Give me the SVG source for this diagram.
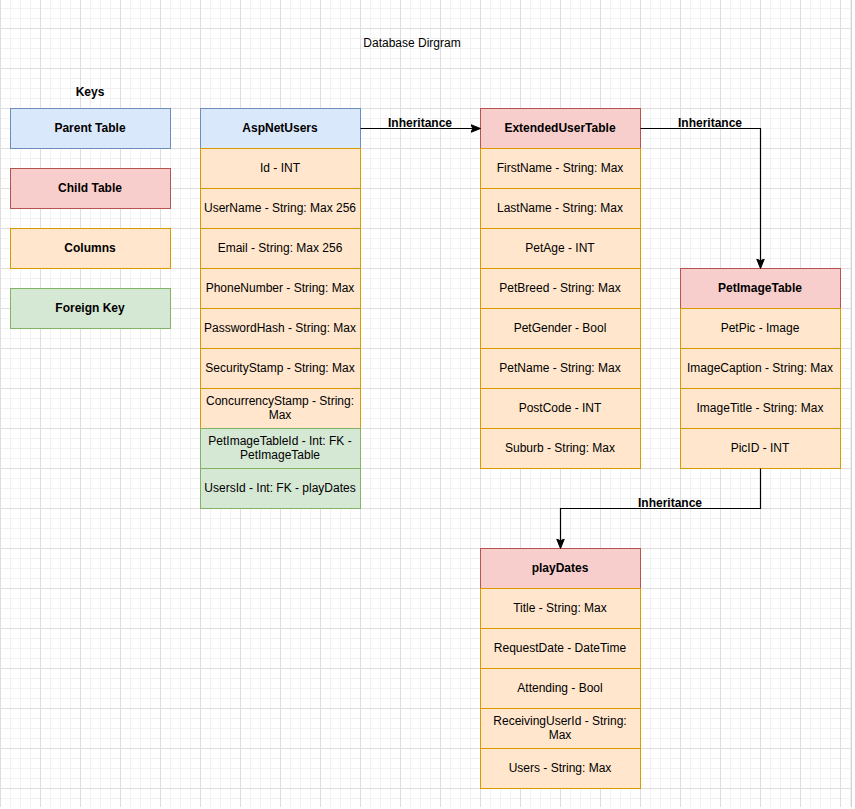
<svg xmlns="http://www.w3.org/2000/svg" width="855" height="809" viewBox="0 0 855 809">
<defs>
<pattern id="minor" width="10" height="10" patternUnits="userSpaceOnUse" x="0" y="8">
<path d="M0 0.5H10M0.5 0V10" fill="none" stroke="#f1f1f1" stroke-width="1"/>
</pattern>
<pattern id="major" width="40" height="40" patternUnits="userSpaceOnUse" x="0" y="28">
<path d="M0 0.5H40M0.5 0V40" fill="none" stroke="#dedede" stroke-width="1"/>
</pattern>
<marker id="arr" viewBox="0 0 10 10" refX="9" refY="5" markerWidth="10" markerHeight="10" markerUnits="userSpaceOnUse" orient="auto">
<path d="M0 1L10 5L0 9L2.5 5Z" fill="#000" stroke="#000" stroke-width="1"/>
</marker>
<style>
text{font-family:"Liberation Sans",Arial,sans-serif;font-size:12px;fill:#000;text-anchor:middle;dominant-baseline:central}
.b{font-weight:bold}
.p{fill:#dae8fc;stroke:#6c8ebf}
.c{fill:#f8cecc;stroke:#b85450}
.col{fill:#ffe6cc;stroke:#d79b00}
.fk{fill:#d5e8d4;stroke:#82b366}
.line{fill:none;stroke:#000;stroke-width:1.2}
</style>
</defs>
<rect x="0" y="0" width="851" height="807" fill="#fff"/>
<rect x="0" y="0" width="851" height="807" fill="url(#minor)"/>
<rect x="0" y="0" width="851" height="807" fill="url(#major)"/>
<line x1="851.5" y1="0" x2="851.5" y2="807" stroke="#d0d0d0"/>

<g id="title"><text x="412" y="43">Database Dirgram</text></g>

<g id="keys">
<text class="b" x="90" y="92">Keys</text>
<rect class="p" x="10.5" y="108.5" width="160" height="40"/><text class="b" x="90" y="128">Parent Table</text>
<rect class="c" x="10.5" y="168.5" width="160" height="40"/><text class="b" x="90" y="188">Child Table</text>
<rect class="col" x="10.5" y="228.5" width="160" height="40"/><text class="b" x="90" y="248">Columns</text>
<rect class="fk" x="10.5" y="288.5" width="160" height="40"/><text class="b" x="90" y="308">Foreign Key</text>
</g>

<g id="AspNetUsers">
<rect class="p" x="200.5" y="108.5" width="160" height="40"/><text class="b" x="280" y="128">AspNetUsers</text>
<rect class="col" x="200.5" y="148.5" width="160" height="40"/><text x="280" y="168">Id - INT</text>
<rect class="col" x="200.5" y="188.5" width="160" height="40"/><text x="280" y="208">UserName - String: Max 256</text>
<rect class="col" x="200.5" y="228.5" width="160" height="40"/><text x="280" y="248">Email - String: Max 256</text>
<rect class="col" x="200.5" y="268.5" width="160" height="40"/><text x="280" y="288">PhoneNumber - String: Max</text>
<rect class="col" x="200.5" y="308.5" width="160" height="40"/><text x="280" y="328">PasswordHash - String: Max</text>
<rect class="col" x="200.5" y="348.5" width="160" height="40"/><text x="280" y="368">SecurityStamp - String: Max</text>
<rect class="col" x="200.5" y="388.5" width="160" height="40"/><text x="280" y="401">ConcurrencyStamp - String:</text><text x="280" y="415">Max</text>
<rect class="fk" x="200.5" y="428.5" width="160" height="40"/><text x="280" y="441">PetImageTableId - Int: FK -</text><text x="280" y="455">PetImageTable</text>
<rect class="fk" x="200.5" y="468.5" width="160" height="40"/><text x="280" y="488">UsersId - Int: FK - playDates</text>
</g>

<g id="ExtendedUserTable">
<rect class="c" x="480.5" y="108.5" width="160" height="40"/><text class="b" x="560" y="128">ExtendedUserTable</text>
<rect class="col" x="480.5" y="148.5" width="160" height="40"/><text x="560" y="168">FirstName - String: Max</text>
<rect class="col" x="480.5" y="188.5" width="160" height="40"/><text x="560" y="208">LastName - String: Max</text>
<rect class="col" x="480.5" y="228.5" width="160" height="40"/><text x="560" y="248">PetAge - INT</text>
<rect class="col" x="480.5" y="268.5" width="160" height="40"/><text x="560" y="288">PetBreed - String: Max</text>
<rect class="col" x="480.5" y="308.5" width="160" height="40"/><text x="560" y="328">PetGender - Bool</text>
<rect class="col" x="480.5" y="348.5" width="160" height="40"/><text x="560" y="368">PetName - String: Max</text>
<rect class="col" x="480.5" y="388.5" width="160" height="40"/><text x="560" y="408">PostCode - INT</text>
<rect class="col" x="480.5" y="428.5" width="160" height="40"/><text x="560" y="448">Suburb - String: Max</text>
</g>

<g id="PetImageTable">
<rect class="c" x="680.5" y="268.5" width="160" height="40"/><text class="b" x="760" y="288">PetImageTable</text>
<rect class="col" x="680.5" y="308.5" width="160" height="40"/><text x="760" y="328">PetPic - Image</text>
<rect class="col" x="680.5" y="348.5" width="160" height="40"/><text x="760" y="368">ImageCaption - String: Max</text>
<rect class="col" x="680.5" y="388.5" width="160" height="40"/><text x="760" y="408">ImageTitle - String: Max</text>
<rect class="col" x="680.5" y="428.5" width="160" height="40"/><text x="760" y="448">PicID - INT</text>
</g>

<g id="playDates">
<rect class="c" x="480.5" y="548.5" width="160" height="40"/><text class="b" x="560" y="568">playDates</text>
<rect class="col" x="480.5" y="588.5" width="160" height="40"/><text x="560" y="608">Title - String: Max</text>
<rect class="col" x="480.5" y="628.5" width="160" height="40"/><text x="560" y="648">RequestDate - DateTime</text>
<rect class="col" x="480.5" y="668.5" width="160" height="40"/><text x="560" y="688">Attending - Bool</text>
<rect class="col" x="480.5" y="708.5" width="160" height="40"/><text x="560" y="721">ReceivingUserId - String:</text><text x="560" y="735">Max</text>
<rect class="col" x="480.5" y="748.5" width="160" height="40"/><text x="560" y="768">Users - String: Max</text>
</g>

<g id="connectors">
<path class="line" d="M360.5 128.5H479.5" marker-end="url(#arr)"/>
<text class="b" x="420" y="123">Inheritance</text>
<path class="line" d="M640.5 128.5H760.5V267.5" marker-end="url(#arr)"/>
<text class="b" x="710" y="123">Inheritance</text>
<path class="line" d="M760.5 468.5V508.5H560.5V547.5" marker-end="url(#arr)"/>
<text class="b" x="670" y="503">Inheritance</text>
</g>
</svg>
